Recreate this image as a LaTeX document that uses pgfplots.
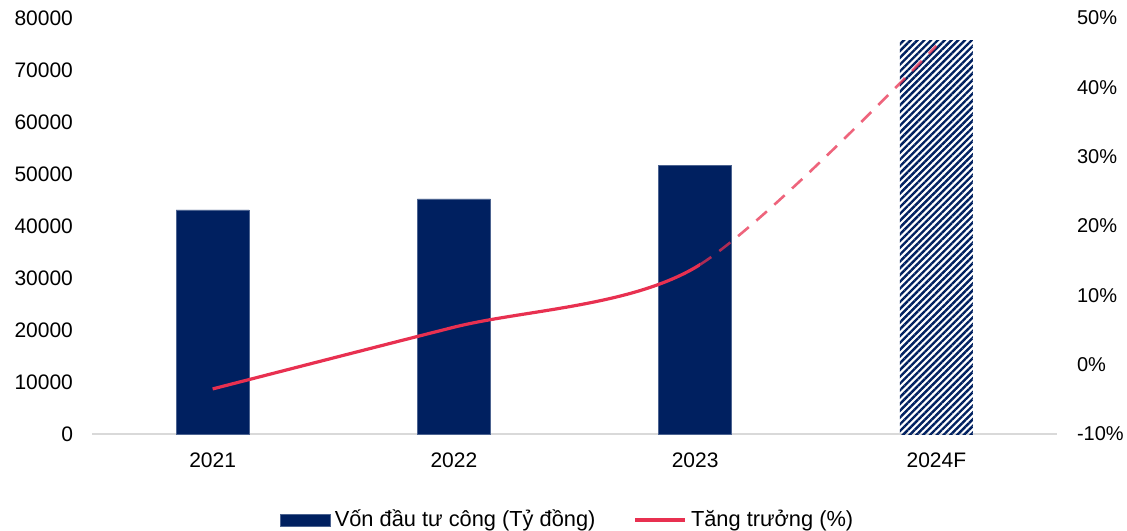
\documentclass[border=0pt]{standalone}
\usepackage{fontspec}
\setmainfont{Liberation Sans}
\usepackage{pgfplots}
\pgfplotsset{compat=1.18}
\usetikzlibrary{patterns.meta}
\definecolor{navy}{RGB}{0,32,96}
\definecolor{redline}{RGB}{232,48,80}
\definecolor{axgray}{RGB}{217,217,217}

\pgfplotstableread{
x val
0 43100
1 45200
2 51700
}\barsolid
\pgfplotstableread{
x val
3 75600
}\barfcst
\pgfplotstableread{
x g
0 -3.5
1 5.4
2 14.0
3 46.0
}\growth

\begin{document}
\begin{tikzpicture}
\pgfplotsset{
  every axis/.append style={
    scale only axis, width=482.5pt, height=208pt,
    xmin=-0.5, xmax=3.5,
    font=\fontsize{10.5}{12}\selectfont,
    /pgf/number format/assume math mode=true,
  },
}
\begin{axis}[
    name=ax,
    ymin=0, ymax=80000, ytick={0,10000,...,80000},
    scaled y ticks=false,
    yticklabel style={/pgf/number format/fixed, /pgf/number format/1000 sep={}},
    axis y line*=left, axis x line*=bottom,
    y axis line style={draw=none},
    x axis line style={draw=axgray, line width=0.75pt},
    ytick style={draw=none}, xtick style={draw=none},
    yticklabel shift=6pt,
    xtick={0,1,2,3}, xticklabels={2021,2022,2023,2024F},
    xticklabel shift=6pt,
    legend style={at={(0.494,-0.163)}, anchor=north, draw=none, legend columns=2,
      font=\fontsize{10.9}{12}\selectfont,
      /tikz/every even column/.append style={column sep=17pt}},
    legend image code/.code={\fill[#1] (0pt,-3pt) rectangle (25pt,3pt);},
]
\addplot[ybar, bar width=36.5pt, fill=navy, draw=navy!70!white, line width=0.3pt] table[x=x, y=val] {\barsolid};
\addlegendentry{Vốn đầu tư công (Tỷ đồng)}
\addplot[ybar, bar width=36.5pt, draw=none,
  pattern={Lines[angle=45, distance=2.4pt, line width=1.2pt]}, pattern color=navy,
  forget plot] table[x=x, y=val] {\barfcst};
\addlegendimage{legend image code/.code={\draw[redline, line width=1.8pt] (0pt,0pt) -- (25pt,0pt);}}
\addlegendentry{Tăng trưởng (\%)}
\end{axis}
\begin{axis}[
    ymin=-10, ymax=50, ytick={-10,0,...,50},
    yticklabel={\pgfmathprintnumber{\tick}\%},
    yticklabel style={font=\fontsize{10}{12}\selectfont},
    axis y line*=right, axis x line=none,
    y axis line style={draw=none}, ytick style={draw=none},
    yticklabel shift=6.5pt,
]
\begin{scope}
\clip (axis cs:-0.5,-10) rectangle (axis cs:2.02,50);
\addplot[redline, line width=1.6pt, smooth, tension=0.5] table[x=x, y=g] {\growth};
\end{scope}
\begin{scope}
\clip (axis cs:2.02,-10) rectangle (axis cs:3.5,50);
\addplot[redline, opacity=0.75, line width=1.3pt, smooth, tension=0.5, dash pattern=on 7pt off 5pt] table[x=x, y=g] {\growth};
\end{scope}
\end{axis}
\pgfresetboundingbox
\path ([shift={(-46pt,-48pt)}]ax.south west) rectangle ([shift={(35pt,9pt)}]ax.north east);
\end{tikzpicture}
\end{document}
